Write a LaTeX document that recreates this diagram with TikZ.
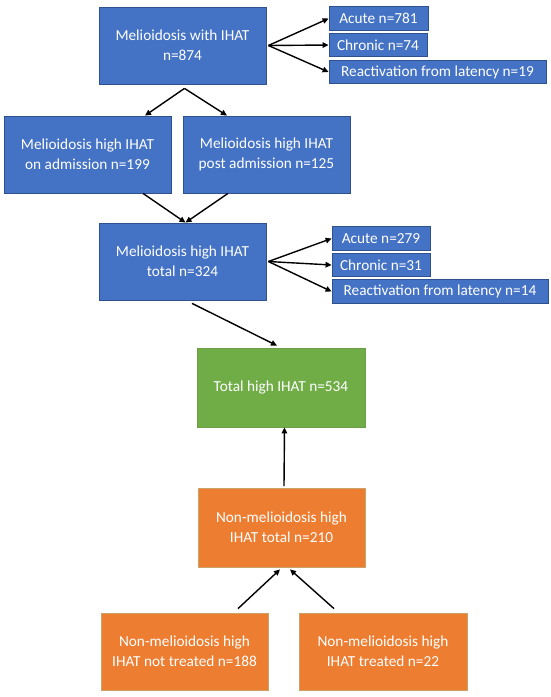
\documentclass[tikz,border=0pt]{standalone}
\usepackage{fontspec}
\setmainfont{Carlito}
\usetikzlibrary{arrows.meta,calc}
\definecolor{bfill}{HTML}{4472C4}
\definecolor{bline}{HTML}{2F528F}
\definecolor{gfill}{HTML}{70AD47}
\definecolor{gline}{HTML}{6E9E45}
\definecolor{ofill}{HTML}{ED7D31}
\definecolor{oline}{HTML}{C9A36A}
\tikzset{
  x=1pt,y=1pt,
  base/.style={draw, line width=0.8pt, text=white, align=center, inner sep=2pt,
    font=\fontsize{15.3}{19.7}\selectfont},
  bluebox/.style={base, fill=bfill, draw=bline},
  greenbox/.style={base, fill=gfill, draw=gline},
  orangebox/.style={base, fill=ofill, draw=oline},
  big/.style={minimum width=167pt, minimum height=77pt},
  small/.style={minimum height=23.5pt, font=\fontsize{15.3}{17}\selectfont},
  arr/.style={line width=1.4pt, -{Triangle[length=6pt,width=5.5pt]}}
}
\begin{document}
\begin{tikzpicture}
\useasboundingbox (0,0) rectangle (550,-697);
\fill[white] (0,0) rectangle (550,-697);
% top
\node[bluebox,big] (b1) at (182.5,-45.5) {Melioidosis with IHAT\\n=874};
\node[bluebox,small,minimum width=99pt] (a1) at (378.5,-18.5) {Acute n=781};
\node[bluebox,small,minimum width=98pt] (c1) at (378,-45) {Chronic n=74};
\node[bluebox,small,minimum width=217pt] (r1) at (437.5,-72) {Reactivation from latency n=19};
% row 2
\node[bluebox,big] (l2) at (87.5,-154.5) {Melioidosis high IHAT\\on admission n=199};
\node[bluebox,big] (p2) at (266.5,-154.5) {Melioidosis high IHAT\\post admission n=125};
% row 3
\node[bluebox,big] (b3) at (182.5,-261.5) {Melioidosis high IHAT\\total n=324};
\node[bluebox,small,minimum width=98pt] (a3) at (381,-238.5) {Acute n=279};
\node[bluebox,small,minimum width=98pt] (c3) at (381,-265) {Chronic n=31};
\node[bluebox,small,minimum width=216pt] (r3) at (440,-291.5) {Reactivation from latency n=14};
% green
\node[greenbox,minimum width=168pt,minimum height=79pt] (g) at (281,-387.5) {Total high IHAT n=534};
% orange
\node[orangebox,minimum width=167pt,minimum height=79pt] (o) at (281.5,-527.5) {Non-melioidosis high\\IHAT total n=210};
\node[orangebox,big] (ol) at (184.5,-651.5) {Non-melioidosis high\\IHAT not treated n=188};
\node[orangebox,minimum width=168pt,minimum height=77pt] (or) at (383,-651.5) {Non-melioidosis high\\IHAT treated n=22};
% arrows
\draw[arr] ($(b1.east)+(2,0)$) -- (a1.west);
\draw[arr] ($(b1.east)+(2,0)$) -- (c1.west);
\draw[arr] ($(b1.east)+(2,0)$) -- (r1.west);
\draw[arr] ($(b1.south)+(2,-4)$) -- ($(l2.north)+(57.5,0)$);
\draw[arr] ($(b1.south)+(2,-4)$) -- ($(p2.north)+(-39.5,0)$);
\draw[arr] ($(l2.south)+(55.5,0)$) -- ($(b3.north)+(3,0)$);
\draw[arr] ($(p2.south)+(-38.5,0)$) -- ($(b3.north)+(3,0)$);
\draw[arr] ($(b3.east)+(2,0)$) -- (a3.west);
\draw[arr] ($(b3.east)+(2,0)$) -- (c3.west);
\draw[arr] ($(b3.east)+(2,0)$) -- (r3.west);
\draw[arr] ($(b3.south)+(9.5,-3)$) -- ($(g.north)+(-4,2)$);
\draw[arr] ($(o.north)+(2.5,1.5)$) -- ($(g.south)+(3.5,0)$);
\draw[arr] ($(ol.north)+(53.5,4)$) -- ($(o.south)+(-1.5,-2)$);
\draw[arr] ($(or.north)+(-49,4)$) -- ($(o.south)+(8.5,-2)$);
\end{tikzpicture}
\end{document}
